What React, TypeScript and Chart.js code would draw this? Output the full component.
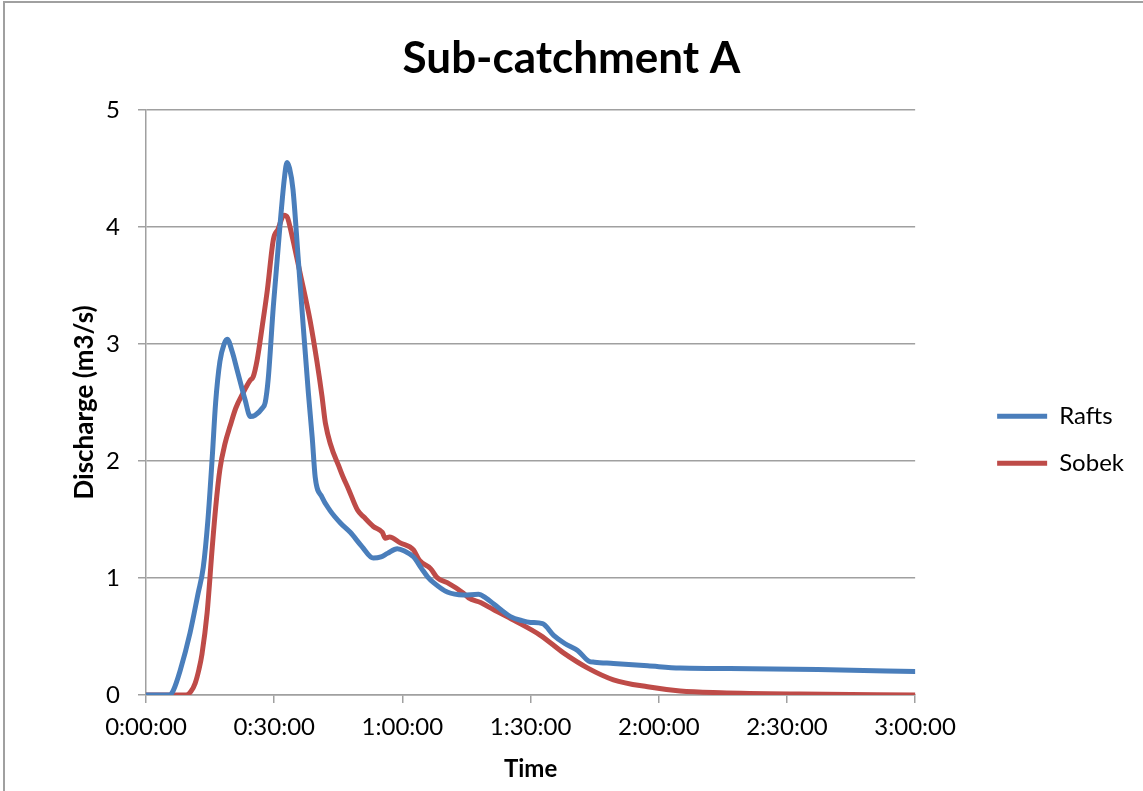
import React, { useEffect, useRef } from 'react';
import { Chart, registerables } from 'chart.js';

Chart.register(...registerables);

// Time in minutes since start
const raftsTime = [
  0, 5.5, 6.4, 8, 10.3, 12.2, 13.4, 14.5, 15.5, 16.3, 17.3, 18.3, 19, 20.2, 21.3, 23.2, 24.4, 25.5,
  27.2, 27.9, 28.6, 29.8, 31.4, 32.4, 33, 33.6, 34.4, 35.6, 36.8, 38, 38.9, 39.6, 41.2, 43, 45.5,
  47.8, 50.5, 53.2, 55, 56.5, 58.8, 60.5, 62.6, 64.5, 65.9, 67.3, 70.5, 74.3, 77.8, 79.5, 81.3,
  85.3, 88, 90, 92.8, 95.4, 98, 101, 103.6, 105, 109.4, 117.4, 125, 141.6, 160, 180,
];
const raftsQ = [
  0, 0, 0.04, 0.21, 0.53, 0.87, 1.09, 1.5, 2.03, 2.5, 2.85, 3.0, 3.04, 2.93, 2.78, 2.52, 2.38, 2.39,
  2.45, 2.5, 2.7, 3.32, 4.03, 4.42, 4.55, 4.5, 4.32, 3.74, 3.15, 2.58, 2.2, 1.86, 1.69, 1.58, 1.47,
  1.39, 1.27, 1.17, 1.18, 1.21, 1.25, 1.23, 1.18, 1.08, 1.01, 0.96, 0.88, 0.855, 0.86, 0.83, 0.78,
  0.67, 0.635, 0.62, 0.61, 0.51, 0.44, 0.38, 0.29, 0.28, 0.27, 0.25, 0.23, 0.225, 0.215, 0.2,
];

const sobekTime = [
  0, 9.4, 10.5, 11.5, 12.4, 13.1, 14.3, 15.5, 16.3, 17.3, 18.5, 19.7, 21, 22.7, 24.4, 25.1, 26,
  27.2, 28.4, 29.8, 30.9, 32.3, 33.1, 33.7, 34.8, 36.1, 38.4, 40, 41.2, 42, 45.5, 47.5, 49.5, 51,
  53.2, 55.3, 56, 57, 59.5, 62.6, 64, 66.6, 68.2, 70.5, 74.3, 75.5, 78.3, 81.3, 86, 92.3, 97.7,
  103.4, 109.4, 117.4, 125, 134.5, 153, 180,
];
const sobekQ = [
  0, 0, 0.03, 0.1, 0.22, 0.35, 0.7, 1.26, 1.6, 1.93, 2.15, 2.3, 2.45, 2.58, 2.69, 2.72, 2.86,
  3.15, 3.46, 3.89, 3.98, 4.1, 4.08, 4.0, 3.82, 3.6, 3.2, 2.85, 2.55, 2.32, 1.92, 1.75, 1.58, 1.52,
  1.44, 1.39, 1.34, 1.35, 1.3, 1.24, 1.15, 1.08, 1.0, 0.96, 0.87, 0.83, 0.79, 0.73, 0.64, 0.51, 0.36,
  0.23, 0.13, 0.07, 0.035, 0.02, 0.008, 0,
];

const xTickValues = [0, 30, 60, 90, 120, 150, 180];
const xTickLabels = ['0:00:00', '0:30:00', '1:00:00', '1:30:00', '2:00:00', '2:30:00', '3:00:00'];
const yTickValues = [0, 1, 2, 3, 4, 5];

const seriesNames = ['Rafts', 'Sobek'];
const titleText = 'Sub-catchment A';
const xTitle = 'Time';
const yTitle = 'Discharge (m3/s)';

const FONT = 'Lato, "Open Sans", sans-serif';
const GRID = '#a0a0a0';

export default function App() {
  const canvasRef = useRef<HTMLCanvasElement | null>(null);

  useEffect(() => {
    const canvas = canvasRef.current;
    if (!canvas) return;
    const chart = new Chart(canvas, {
      type: 'line',
      data: {
        datasets: [
          {
            label: seriesNames[0],
            data: raftsTime.map((t, i) => ({ x: t, y: raftsQ[i] })),
            borderColor: '#4A7EBB',
            backgroundColor: '#4A7EBB',
            borderWidth: 5,
            pointRadius: 0,
            cubicInterpolationMode: 'monotone',
            borderCapStyle: 'round',
            borderJoinStyle: 'round',
            yAxisID: 'y',
          },
          {
            label: seriesNames[1],
            data: sobekTime.map((t, i) => ({ x: t, y: sobekQ[i] })),
            borderColor: '#BE4B48',
            backgroundColor: '#BE4B48',
            borderWidth: 5,
            pointRadius: 0,
            cubicInterpolationMode: 'monotone',
            borderCapStyle: 'round',
            borderJoinStyle: 'round',
            yAxisID: 'y',
          },
        ],
      },
      options: {
        responsive: false,
        animation: false,
        layout: { padding: { left: 9, right: 9, top: 0, bottom: 0 } },
        plugins: {
          tooltip: { enabled: false },
          title: {
            display: true,
            text: titleText,
            color: '#000',
            font: { family: FONT, size: 44, weight: 'bold' },
            padding: { top: 32, bottom: 25 },
          },
          legend: {
            position: 'right',
            align: 'center',
            title: { display: true, text: '', padding: 37 },
            labels: {
              usePointStyle: true,
              pointStyle: 'line',
              pointStyleWidth: 50,
              padding: 23,
              color: '#000',
              font: { family: FONT, size: 24 },
            },
          },
        },
        scales: {
          x: {
            type: 'linear',
            min: 0,
            max: 180,
            afterBuildTicks: (s: any) => {
              s.ticks = xTickValues.map((v) => ({ value: v }));
            },
            ticks: {
              autoSkip: false,
              maxRotation: 0,
              padding: 10,
              color: '#000',
              font: { family: FONT, size: 24 },
              callback: (v: any) => {
                const i = xTickValues.indexOf(Number(v));
                return i >= 0 ? xTickLabels[i] : '';
              },
            },
            grid: { drawOnChartArea: false, drawTicks: true, tickLength: 8, color: GRID, lineWidth: 1.5 },
            border: { color: GRID, width: 1.5 },
            title: {
              display: true,
              text: xTitle,
              color: '#000',
              font: { family: FONT, size: 24, weight: 'bold' },
              padding: { top: 0, bottom: 7 },
            },
            afterFit: (s: any) => {
              s.height = 96;
            },
          },
          y: {
            type: 'linear',
            position: 'left',
            min: 0,
            max: 5,
            afterBuildTicks: (s: any) => {
              s.ticks = yTickValues.map((v) => ({ value: v }));
            },
            ticks: {
              padding: 18,
              color: '#000',
              font: { family: FONT, size: 24 },
            },
            grid: { color: GRID, lineWidth: 1.5, tickLength: 8 },
            border: { color: GRID, width: 1.5 },
            title: {
              display: true,
              text: yTitle,
              color: '#000',
              font: { family: FONT, size: 26, weight: 'bold' },
              padding: { top: 60, bottom: 0 },
            },
            afterFit: (s: any) => {
              s.width = 137;
            },
          },
          yR: {
            type: 'linear',
            position: 'right',
            display: true,
            grid: { display: false },
            ticks: { display: false },
            border: { display: false },
            afterFit: (s: any) => {
              s.width = 59;
            },
          },
        },
      } as any,
    });
    return () => chart.destroy();
  }, []);

  return (
    <div
      style={{
        position: 'fixed',
        left: 0,
        top: 0,
        width: 1143,
        height: 791,
        overflow: 'hidden',
        background: '#fff',
      }}
    >
      <div
        style={{
          position: 'absolute',
          left: 3,
          top: 1,
          width: 1300,
          height: 1000,
          borderLeft: '2px solid #a0a0a0',
          borderTop: '2px solid #a0a0a0',
        }}
      />
      <canvas
        ref={canvasRef}
        width={1143}
        height={791}
        style={{ position: 'absolute', left: 0, top: 0, width: 1143, height: 791 }}
      />
    </div>
  );
}
